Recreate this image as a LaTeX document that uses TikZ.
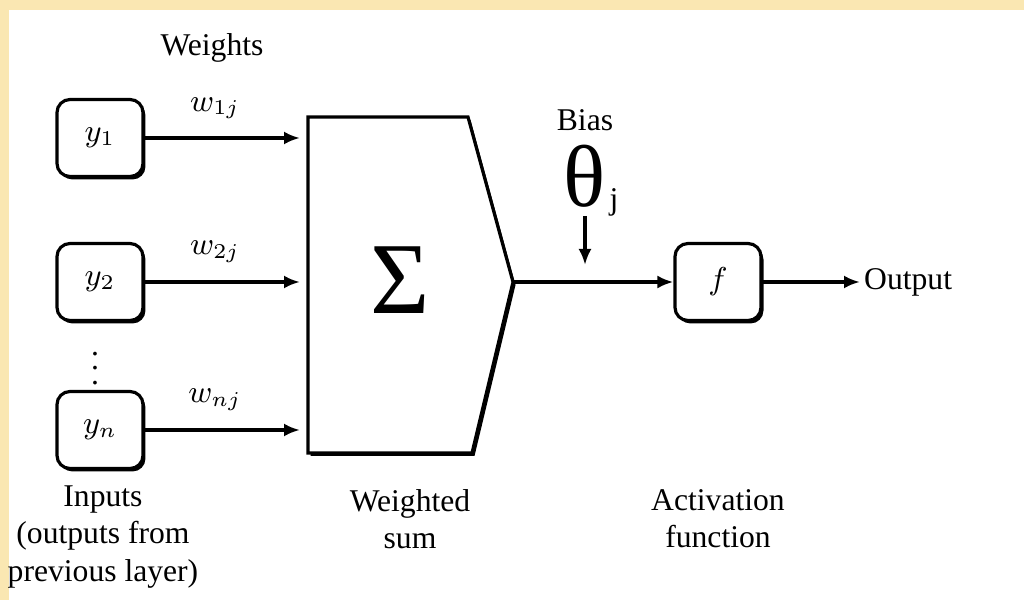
\documentclass[tikz,border=0pt]{standalone}
\usepackage{fontspec}
\setmainfont{Liberation Serif}
\usetikzlibrary{arrows.meta,shadows}
\definecolor{frameyellow}{RGB}{250,231,178}

\tikzset{
  txt/.style={font=\fontsize{9}{10.6}\selectfont, inner sep=1pt},
  unitbox/.style={draw, line width=0.9pt, rounded corners=0.13cm, minimum width=0.86cm, minimum height=0.77cm, fill=white,
    drop shadow={shadow xshift=0.025cm, shadow yshift=-0.03cm, fill=black, opacity=1}, font=\fontsize{9}{10.6}\selectfont},
  arr/.style={line width=0.9pt, -{Latex[length=1.6mm,width=1.3mm]}}
}

\begin{document}
\begin{tikzpicture}
  \useasboundingbox (0,0) rectangle (10.24,6);
  \fill[frameyellow] (0,0) rectangle (10.24,6);
  \fill[white] (0.09,0) rectangle (10.24,5.9);

  % inputs
  \node[unitbox] (y1) at (1.00,4.62) {$y_1$};
  \node[unitbox] (y2) at (1.00,3.18) {$y_2$};
  \node[unitbox] (yn) at (1.00,1.70) {$y_n$};
  \node[txt] (dots) at (0.95,2.42) {$\vdots$};
  \node[txt] (weights) at (2.12,5.52) {Weights};

  % weighted sum block
  \filldraw[fill=white, line width=0.9pt, drop shadow={shadow xshift=0.025cm, shadow yshift=-0.03cm, fill=black, opacity=1}]
    (3.08,4.83) coordinate (sumtl) -- (4.68,4.83) -- (5.13,3.18) coordinate (sumtip)
    -- (4.72,1.47) -- (3.08,1.47) coordinate (sumbl) -- cycle;
  \node (sigma) at (4.00,3.20) {\fontsize{29}{30}\selectfont Σ};

  % weighted connections
  \coordinate (in1) at (3.00,4.62);
  \coordinate (in2) at (3.00,3.18);
  \coordinate (inn) at (3.00,1.70);
  \draw[arr] (y1) -- (in1);
  \draw[arr] (y2) -- (in2);
  \draw[arr] (yn) -- (inn);
  \node[txt] (w1) at (2.15,4.92) {$w_{1j}$};
  \node[txt] (w2) at (2.15,3.48) {$w_{2j}$};
  \node[txt] (wn) at (2.15,2.00) {$w_{nj}$};

  % bias and activation
  \node[txt] (bias) at (5.85,4.80) {Bias};
  \node[inner sep=0pt] (theta) at (5.85,4.24) {\fontsize{25}{26}\selectfont θ};
  \node[txt] (j) at (6.14,3.98) {j};
  \node[unitbox] (f) at (7.18,3.18) {$f$};
  \coordinate (biasend) at (5.85,3.35);
  \draw[arr] (theta.south) ++(0,-0.08) coordinate (biasstart) -- (biasend);
  \draw[arr] (sumtip) -- (f.west);
  \node[txt, anchor=west] (out) at (8.60,3.18) {Output};
  \draw[arr] (f.east) -- (out.west);

  % captions
  \node[txt, align=center] (inputs) at (1.03,0.63) {Inputs\\(outputs from\\previous layer)};
  \node[txt, align=center] (wsum) at (4.10,0.81) {Weighted\\sum};
  \node[txt, align=center] (act) at (7.18,0.81) {Activation\\function};
\end{tikzpicture}
\end{document}
